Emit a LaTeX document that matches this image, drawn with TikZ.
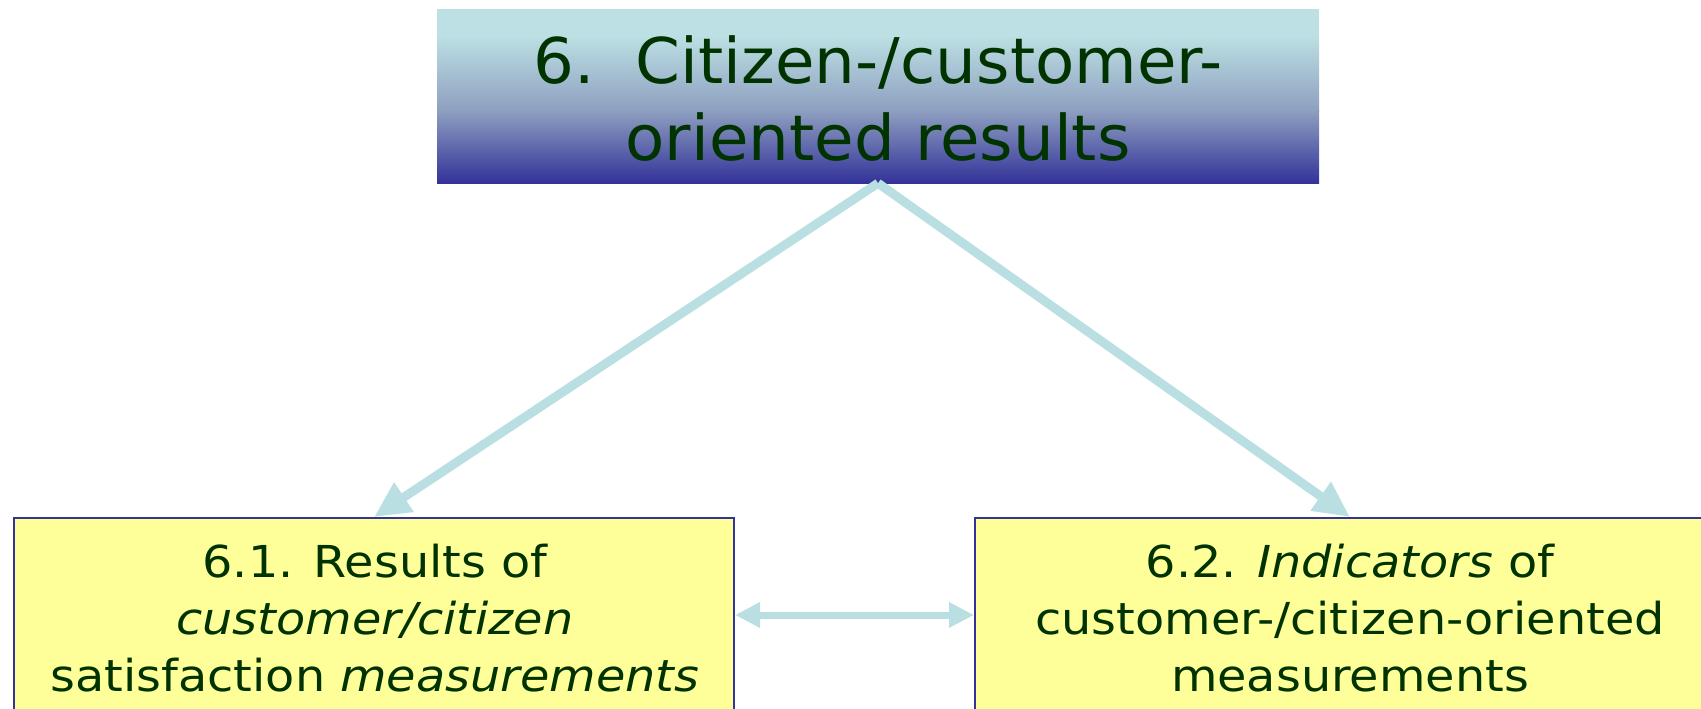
\documentclass[tikz,border=0pt]{standalone}
\usepackage{fontspec}
\setmainfont{DejaVu Sans}
\newfontfamily\subfont[FakeStretch=1.085]{DejaVu Sans}
\newfontfamily\topfont[FakeStretch=1.02]{DejaVu Sans}
\usetikzlibrary{arrows.meta}
\definecolor{arrowc}{HTML}{BADFE3}
\definecolor{boxfill}{HTML}{FFFF99}
\definecolor{boxline}{HTML}{333399}
\definecolor{txt}{HTML}{003300}
\definecolor{toplight}{HTML}{BCE0E3}
\definecolor{topmid}{HTML}{8E9FC0}
\definecolor{topdark}{HTML}{333399}
\tikzset{
  subbox/.style={draw=boxline, line width=2pt, fill=boxfill, inner sep=0pt, minimum height=194pt},
  toptxt/.style={text=txt, align=center, inner sep=0pt, font=\topfont\fontsize{63}{77}\selectfont},
  subtxt/.style={text=txt, align=center, inner sep=0pt, font=\subfont\fontsize{44}{57}\selectfont},
  conn/.style={draw=arrowc, line width=9pt, -{Triangle[length=36pt,width=33pt]}},
  dblconn/.style={draw=arrowc, line width=7pt, {Triangle[length=25pt,width=24pt]}-{Triangle[length=25pt,width=24pt]}}
}
\begin{document}
\begin{tikzpicture}[x=1pt,y=-1pt]
\useasboundingbox (0,0) rectangle (1701,709);
\clip (0,0) rectangle (1701,709);
\fill[white] (0,0) rectangle (1701,709);
% top box background (gradient)
\fill[toplight] (437,9) rectangle (1319,36);
\shade[top color=toplight, bottom color=topmid] (437,35.5) rectangle (1319,111);
\shade[top color=topmid, bottom color=topdark] (437,110.5) rectangle (1319,183);
\node[inner sep=0pt, minimum width=882pt, minimum height=174pt] (top) at (878,96) {};
\node[toptxt, anchor=base] (toptext) at (878,160) {6.\ \ Citizen-/customer-\\oriented results};
% lower boxes
\node[subbox, minimum width=720pt] (b1) at (374,615) {};
\node[subbox, minimum width=750pt] (b2) at (1350,615) {};
\node[subtxt, anchor=base] (t1) at (375,691) {6.1. Results of\\\textit{customer/citizen}\\satisfaction \textit{measurements}};
\node[subtxt, anchor=base] (t2) at (1350,691) {6.2. \textit{Indicators} of\\customer-/citizen-oriented\\measurements};
% connectors
\draw[conn] (top.south) -- (b1.north);
\draw[conn] (top.south) -- (b2.north);
\draw[dblconn] (b1.east) -- (b2.west);
\end{tikzpicture}
\end{document}
